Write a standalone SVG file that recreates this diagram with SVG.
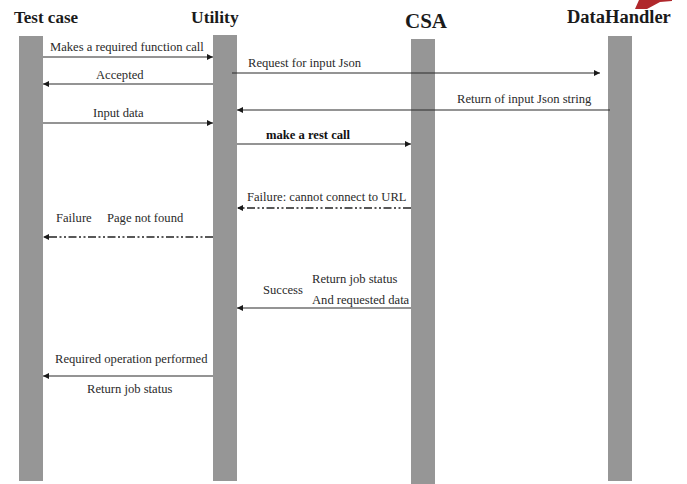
<svg xmlns="http://www.w3.org/2000/svg" width="687" height="484" viewBox="0 0 687 484">
<style>
.bar{fill:#969696}
.title{font-family:"Liberation Serif","Times New Roman",serif;font-weight:bold;fill:#1a1a1a}
.lbl{font-family:"Liberation Serif","Times New Roman",serif;font-size:12.6px;fill:#2a2a2a}
.b{font-weight:bold;fill:#111}
.msg{stroke:#2a2a2a;stroke-width:1.2;fill:none}
.dash{stroke:#222;stroke-width:1.3;stroke-dasharray:8 2.5 2 2.5 2 2.5}
</style>
<defs>
<marker id="ah" viewBox="0 0 10 10" refX="10" refY="5" markerWidth="6" markerHeight="6" markerUnits="userSpaceOnUse" orient="auto">
<path d="M0,0 L10,5 L0,10 z" fill="#1a1a1a"/>
</marker>
</defs>
<rect width="687" height="484" fill="#fff"/>
<polygon points="635,9 639,0 672,0 672,1 660,2 647,9" fill="#b0282c"/>
<g id="testcase">
<rect class="bar" x="19" y="36" width="24" height="445"/>
<text class="title" x="14" y="23" font-size="17">Test case</text>
</g>
<g id="utility">
<rect class="bar" x="213" y="35" width="24" height="446"/>
<text class="title" x="191" y="23" font-size="17.5">Utility</text>
</g>
<g id="csa">
<rect class="bar" x="411" y="39" width="24" height="445"/>
<text class="title" x="405" y="28" font-size="21">CSA</text>
</g>
<g id="datahandler">
<rect class="bar" x="608" y="36" width="24" height="445"/>
<text class="title" x="567" y="23" font-size="18.5">DataHandler</text>
</g>
<g id="connectors">
<line class="msg" x1="43" y1="57" x2="213" y2="57" marker-end="url(#ah)"/>
<text class="lbl" x="50" y="51">Makes a required function call</text>
<line class="msg" x1="232" y1="73" x2="600" y2="73" marker-end="url(#ah)"/>
<text class="lbl" x="248" y="67">Request for input Json</text>
<line class="msg" x1="213" y1="84" x2="43" y2="84" marker-end="url(#ah)"/>
<text class="lbl" x="96" y="79">Accepted</text>
<line class="msg" x1="610" y1="110" x2="237" y2="110" marker-end="url(#ah)"/>
<text class="lbl" x="457" y="103">Return of input Json string</text>
<line class="msg" x1="43" y1="123" x2="213" y2="123" marker-end="url(#ah)"/>
<text class="lbl" x="93" y="117">Input data</text>
<line class="msg" x1="237" y1="144" x2="411" y2="144" marker-end="url(#ah)"/>
<text class="lbl b" x="266" y="139">make a rest call</text>
<line class="msg dash" x1="411" y1="208" x2="237" y2="208" marker-end="url(#ah)"/>
<text class="lbl" x="247" y="201">Failure: cannot connect to URL</text>
<line class="msg dash" x1="213" y1="237" x2="43" y2="237" marker-end="url(#ah)"/>
<text class="lbl" x="56" y="222">Failure</text>
<text class="lbl" x="107" y="222">Page not found</text>
<line class="msg" x1="411" y1="308" x2="237" y2="308" marker-end="url(#ah)"/>
<text class="lbl" x="263" y="294">Success</text>
<text class="lbl" x="312" y="283">Return job status</text>
<text class="lbl" x="312" y="304">And requested data</text>
<line class="msg" x1="213" y1="376" x2="43" y2="376" marker-end="url(#ah)"/>
<text class="lbl" x="55" y="363">Required operation performed</text>
<text class="lbl" x="87" y="393">Return job status</text>
</g>
</svg>
